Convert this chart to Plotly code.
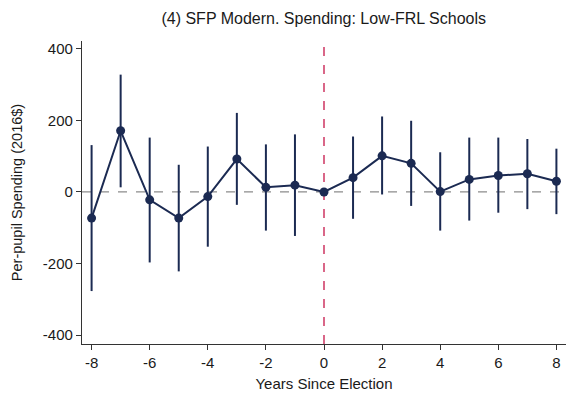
import plotly.graph_objects as go

# Event-study estimates: per-pupil spending relative to election year
years = [-8, -7, -6, -5, -4, -3, -2, -1, 0, 1, 2, 3, 4, 5, 6, 7, 8]
coef = [-73, 171, -22, -73, -13, 92, 13, 19, 0, 40, 101, 80, 1, 35, 46, 51, 30]
ci_hi = [131, 328, 152, 76, 127, 221, 133, 161, 0, 155, 211, 199, 111, 152, 152, 148, 121]
ci_lo = [-277, 13, -197, -222, -153, -36, -108, -123, 0, -75, -7, -39, -108, -80, -58, -48, -62]

x_ticks = [-8, -6, -4, -2, 0, 2, 4, 6, 8]
y_ticks = [-400, -200, 0, 200, 400]

navy = "#1b2a52"
font = "Liberation Sans, Arial, sans-serif"

err_plus = [h - c for h, c in zip(ci_hi, coef)]
err_minus = [c - l for c, l in zip(coef, ci_lo)]

fig = go.Figure()

# zero reference line
fig.add_hline(y=0, line=dict(color="#8c8c8c", width=1.3, dash="dash"), layer="below")
# election year marker
fig.add_vline(x=0, line=dict(color="#d6577c", width=1.8, dash="dash"), layer="below")

fig.add_trace(go.Scatter(
    x=years, y=coef,
    mode="lines+markers",
    line=dict(color=navy, width=2),
    marker=dict(color=navy, size=9),
    error_y=dict(type="data", symmetric=False, array=err_plus, arrayminus=err_minus,
                 color=navy, thickness=2, width=0),
    showlegend=False,
))

fig.update_layout(
    width=573, height=403,
    margin=dict(l=81.5, r=7, t=41, b=59),
    paper_bgcolor="white", plot_bgcolor="white",
    font=dict(family=font, size=15, color="#1a1a1a"),
    title=dict(text="(4) SFP Modern. Spending: Low-FRL Schools", x=0.565, xanchor="center",
               y=0.955, yanchor="middle", font=dict(size=16, family=font, color="#1a1a1a")),
)
fig.update_xaxes(
    range=[-8.33, 8.33], tickvals=x_ticks, ticktext=[str(v) for v in x_ticks],
    showgrid=False, zeroline=False, showline=True, linecolor="#333", linewidth=1.3,
    ticks="outside", ticklen=5, tickcolor="#333",
    title=dict(text="Years Since Election", font=dict(size=15), standoff=8),
)
fig.update_yaxes(
    range=[-425, 422], tickvals=y_ticks, ticktext=[str(v) for v in y_ticks],
    showgrid=False, zeroline=False, showline=True, linecolor="#333", linewidth=1.3,
    ticks="outside", ticklen=5, tickcolor="#333",
    title=dict(text="Per-pupil Spending (2016$)", font=dict(size=14.5), standoff=16),
)

fig.write_html("out.html")
